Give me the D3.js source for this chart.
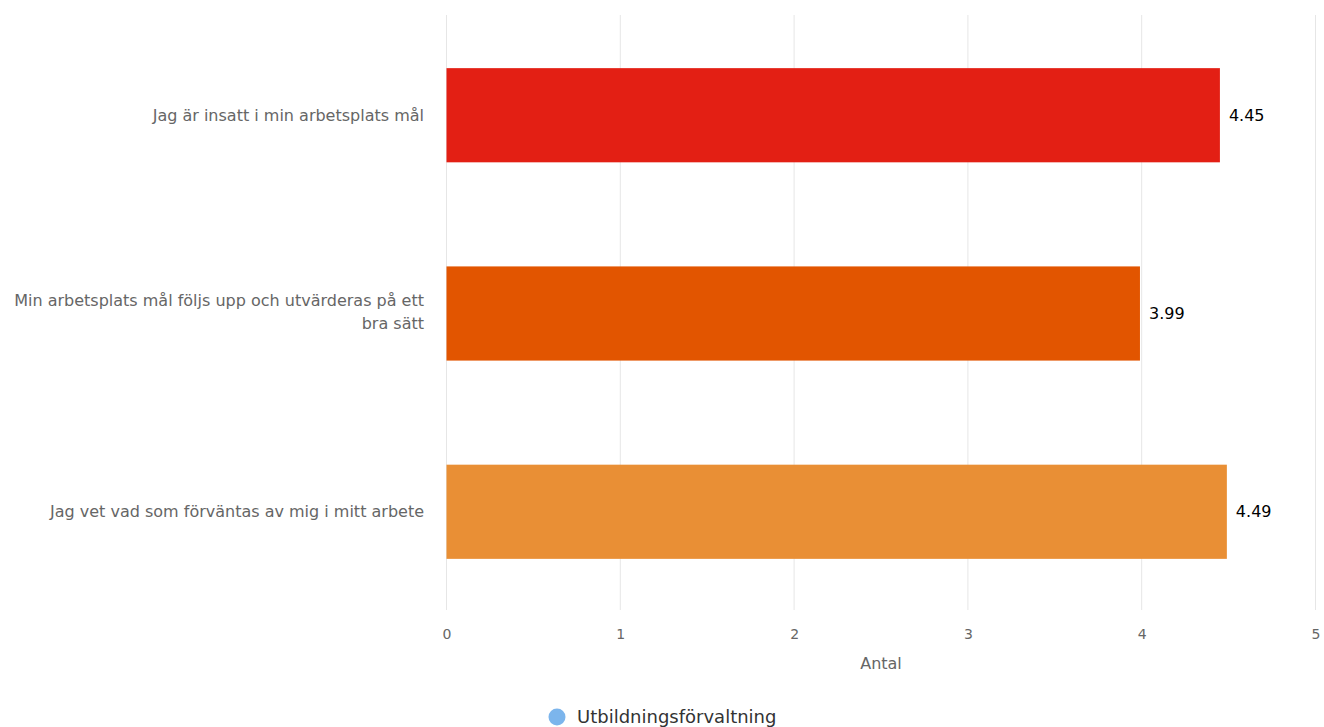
<!DOCTYPE html>
<html><head><meta charset="utf-8">
<script src="https://cdn.jsdelivr.net/npm/d3@7"></script>
<style>body{margin:0;background:#fff}svg{display:block}</style>
</head><body>
<svg id="c" width="1324" height="727"></svg>
<script>
const categories = ["Jag är insatt i min arbetsplats mål", "Min arbetsplats mål följs upp och utvärderas på ett bra sätt", "Jag vet vad som förväntas av mig i mitt arbete"];
const values = [4.45, 3.99, 4.49];
const barColors = ["#e31f14", "#e25500", "#e98f35"];
const ticks = [0, 1, 2, 3, 4, 5];
const seriesName = "Utbildningsförvaltning";
const axisTitle = "Antal";

const svg = d3.select("#c");
const font = "DejaVu Sans, sans-serif";
const L = 446.5, R = 1315.5, T = 15, B = 610;
const x = d3.scaleLinear().domain([0, 5]).range([L, R]);
const y = d3.scaleBand().domain(categories).range([T + 1, B + 1]).paddingInner(0.525).paddingOuter(0.263);

// grid
svg.append("g").selectAll("line").data(ticks).join("line")
  .attr("x1", d => x(d)).attr("x2", d => x(d)).attr("y1", T).attr("y2", B)
  .attr("stroke", "#e6e6e6").attr("stroke-width", 1);

// x axis labels
const xAxis = d3.axisBottom(x).tickValues(ticks).tickSize(0).tickPadding(0).tickFormat(d3.format("d"));
const gx = svg.append("g").attr("transform", `translate(0,${B + 19})`).call(xAxis);
gx.select(".domain").remove();
gx.selectAll("text").attr("fill", "#666").style("font-family", font).style("font-size", "14px");

svg.append("text").attr("x", (L + R) / 2).attr("y", 669).attr("text-anchor", "middle")
  .attr("fill", "#666").style("font-family", font).style("font-size", "16px").text(axisTitle);

// bars
svg.append("g").selectAll("rect").data(values).join("rect")
  .attr("x", x(0)).attr("y", (d, i) => y(categories[i]))
  .attr("width", d => x(d) - x(0)).attr("height", y.bandwidth())
  .attr("fill", (d, i) => barColors[i]);

// value labels
svg.append("g").selectAll("text").data(values).join("text")
  .attr("x", d => x(d) + 9).attr("y", (d, i) => y(categories[i]) + y.bandwidth() / 2)
  .attr("dy", "0.35em").attr("fill", "#000")
  .style("font-family", font).style("font-size", "16px").text(d => d3.format(".2f")(d));

// category labels (wrapped)
const labSize = "16px";
function wrap(text, maxW) {
  const words = text.split(" "); const lines = []; let cur = "";
  const tmp = svg.append("text").style("font-family", font).style("font-size", labSize);
  words.forEach(w => {
    const t = cur ? cur + " " + w : w;
    tmp.text(t);
    if (tmp.node().getComputedTextLength() > maxW && cur) { lines.push(cur); cur = w; } else cur = t;
  });
  lines.push(cur); tmp.remove(); return lines;
}
const lab = svg.append("g");
categories.forEach((c, i) => {
  const lines = wrap(c, 418);
  const cy = y(c) + y.bandwidth() / 2 - (lines.length > 1 ? 2 : 0);
  const lh = 23;
  const t = lab.append("text").attr("text-anchor", "end").attr("fill", "#666")
    .style("font-family", font).style("font-size", labSize);
  lines.forEach((ln, k) => {
    t.append("tspan").attr("x", 424).attr("y", cy + (k - (lines.length - 1) / 2) * lh).attr("dy", "0.35em").text(ln);
  });
});

// legend
svg.append("circle").attr("cx", 557).attr("cy", 717).attr("r", 8.5).attr("fill", "#7cb5ec");
svg.append("text").attr("x", 577).attr("y", 717).attr("dy", "0.35em").attr("fill", "#333")
  .style("font-family", font).style("font-size", "18px").text(seriesName);
</script>
</body></html>
